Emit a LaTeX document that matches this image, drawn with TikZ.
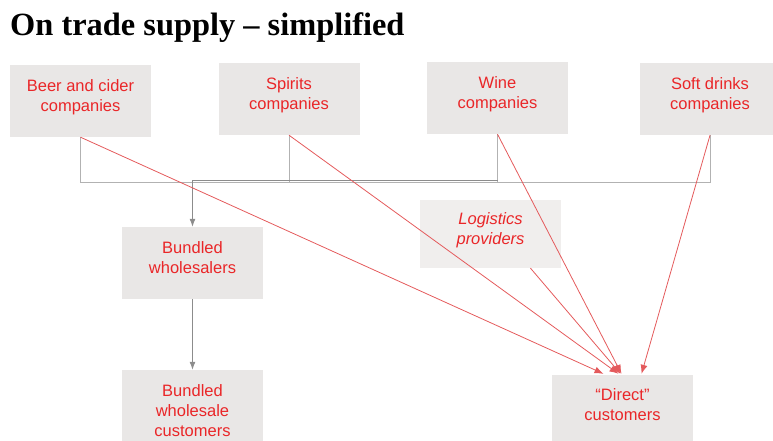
\documentclass[tikz,border=0pt]{standalone}
\usepackage{fontspec}
\setmainfont{Liberation Sans}
\newfontfamily\titlefont{Liberation Serif}
\usetikzlibrary{arrows.meta,calc}

\definecolor{boxgray}{RGB}{233,231,230}
\definecolor{textred}{RGB}{234,38,40}
\definecolor{linered}{RGB}{228,90,92}
\definecolor{linegray}{RGB}{178,178,178}
\definecolor{arrowgray}{RGB}{140,140,140}

\tikzset{
  box/.style={fill=boxgray, text=textred, align=center, inner sep=0pt,
    minimum width=141pt, minimum height=72pt,
    font=\fontsize{16.5}{20}\selectfont},
  redarrow/.style={draw=linered, line width=0.8pt, -{Latex[length=9pt,width=7pt]}},
  grayline/.style={draw=linegray, line width=1pt},
  grayarrow/.style={draw=arrowgray, line width=1pt, -{Latex[length=8pt,width=6pt]}},
}

\begin{document}
\begin{tikzpicture}[x=1pt,y=-1pt]
\useasboundingbox (0,0) rectangle (773,441);

% title
\node[anchor=base west, inner sep=0pt, font=\titlefont\bfseries\fontsize{32.4}{36}\selectfont]
  (title) at (10,36) {On trade supply – simplified};

% suppliers
\node[box, text depth=10pt] (beer)    at (80.5,101) {Beer and cider\\companies};
\node[box, text depth=10pt] (spirits) at (289,99)   {Spirits\\companies};
\node[box, text depth=10pt] (wine)    at (497.5,98) {Wine\\companies};
\node[box, text depth=10pt] (soft)    at (710,99)   {Soft drinks\\companies};

% middle tier
\node[box, text depth=10pt] (wholesalers) at (192.5,263) {Bundled\\wholesalers};
\node[box, text depth=10pt, fill=boxgray!70, minimum height=68pt,
  font=\itshape\fontsize{16.5}{20}\selectfont]
  (logistics) at (490.5,234) {Logistics\\providers};

% customers
\node[box, minimum height=82pt] (wscustomers) at (192.5,411) {Bundled\\wholesale\\customers};
\node[box, text depth=10pt, minimum height=70pt] (direct) at (622.5,410) {“Direct”\\customers};

% gray supply tree
\coordinate (bus) at (0,182);
\draw[grayline] (beer.south) -- (beer.south |- bus) -- (soft.south |- bus) -- (soft.south);
\draw[grayline] (spirits.south) -- (spirits.south |- bus);
\draw[grayline] (wine.south) -- (wine.south |- bus);
\draw[grayarrow] (wine.south |- 0,180.5) -- (wholesalers.north |- 0,180.5) -- (wholesalers.north);
\draw[grayarrow] (wholesalers.south) -- (wscustomers.north);

% red direct routes
\draw[redarrow] (beer.south) -- ($(direct.north)+(-19,-1)$);
\draw[redarrow] (spirits.south) -- ($(direct.north)+(-4,-1)$);
\draw[redarrow] (wine.south) -- ($(direct.north)+(-1,-1)$);
\draw[redarrow] ($(logistics.south)+(40,0)$) -- ($(direct.north)+(-2,-1)$);
\draw[redarrow] (soft.south) -- ($(direct.north)+(19,-1)$);
\end{tikzpicture}
\end{document}
